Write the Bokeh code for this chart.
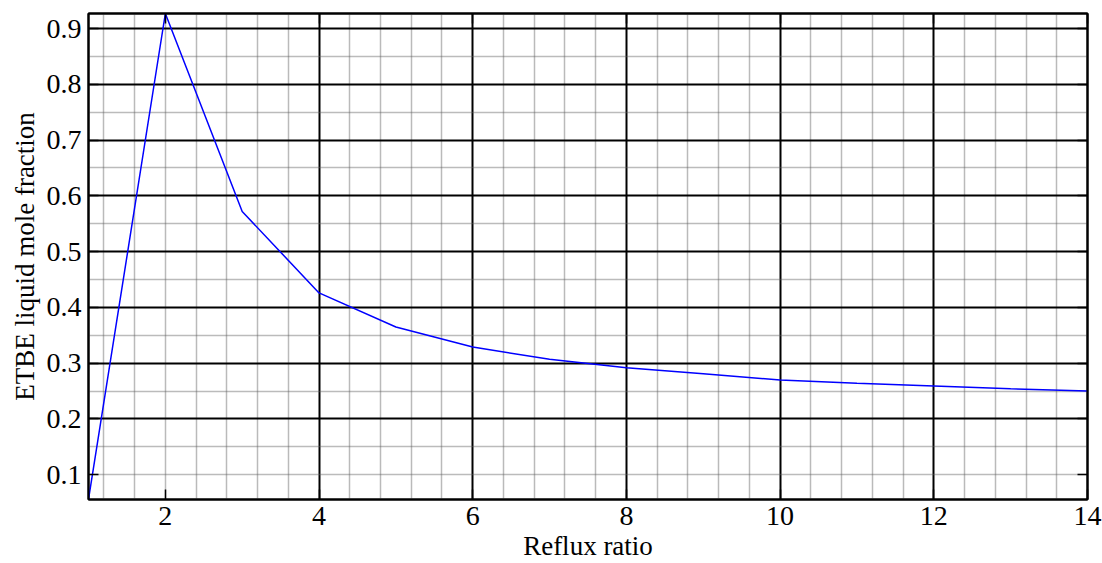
from bokeh.plotting import figure
from bokeh.models import FixedTicker, LinearAxis, Range1d, ColumnDataSource
from bokeh.embed import file_html
from bokeh.resources import INLINE

# ETBE liquid mole fraction versus reflux ratio
reflux_ratio = [1, 2, 3, 4, 5, 6, 7, 8, 9, 10, 11, 12, 13, 14]
etbe_fraction = [0.0556, 0.927, 0.572, 0.426, 0.365, 0.329, 0.307, 0.292,
                 0.281, 0.270, 0.264, 0.259, 0.254, 0.250]

x_ticks = [2, 4, 6, 8, 10, 12, 14]
y_ticks = [0.1, 0.2, 0.3, 0.4, 0.5, 0.6, 0.7, 0.8, 0.9]
x_minor = [1.2, 1.6, 2.0, 2.4, 2.8, 3.2, 3.6, 4.4, 4.8, 5.2, 5.6, 6.4, 6.8, 7.2, 7.6,
           8.4, 8.8, 9.2, 9.6, 10.4, 10.8, 11.2, 11.6, 12.4, 12.8, 13.2, 13.6]
y_minor = [0.1, 0.15, 0.25, 0.35, 0.45, 0.55, 0.65, 0.75, 0.85]
x_bold = [4, 6, 8, 10, 12]
y_bold = [0.2, 0.3, 0.4, 0.5, 0.6, 0.7, 0.8, 0.9]

FONT = "Liberation Serif"
TICK_FS = "28px"
LABEL_FS = "27px"

p = figure(width=1102, height=563, output_backend="svg", toolbar_location=None,
           x_range=Range1d(min(reflux_ratio), max(reflux_ratio)),
           y_range=Range1d(min(etbe_fraction), max(etbe_fraction)),
           min_border_left=88, min_border_right=15, min_border_top=13, min_border_bottom=63)
p.background_fill_color = "white"
p.border_fill_color = "white"
p.outline_line_color = "black"
p.outline_line_width = 2

# grids: dotted gray minor lines, solid black major lines
p.xgrid.ticker = FixedTicker(ticks=x_bold, minor_ticks=x_minor)
p.ygrid.ticker = FixedTicker(ticks=y_bold, minor_ticks=y_minor)
for g in (p.xgrid[0], p.ygrid[0]):
    g.grid_line_color = "black"
    g.grid_line_width = 2
    g.minor_grid_line_color = "#5e5e5e"
    g.minor_grid_line_width = 1.5
    g.minor_grid_line_dash = "1 1"
    g.minor_grid_line_alpha = 0.85

def style_axis(ax, show_labels=True):
    ax.axis_line_color = "black"
    ax.axis_line_width = 2
    ax.major_tick_in = 10
    ax.major_tick_out = 0
    ax.major_tick_line_width = 1.5
    ax.minor_tick_line_color = None
    ax.major_label_text_font = FONT
    ax.major_label_text_font_size = TICK_FS if show_labels else "0px"
    ax.major_label_text_color = "black" if show_labels else None
    ax.axis_label_text_font = FONT
    ax.axis_label_text_font_size = LABEL_FS
    ax.axis_label_text_font_style = "normal"
    ax.axis_label_text_color = "black"

p.xaxis.ticker = FixedTicker(ticks=x_ticks)
p.yaxis.ticker = FixedTicker(ticks=y_ticks)
style_axis(p.xaxis[0])
style_axis(p.yaxis[0])
p.xaxis.axis_label = "Reflux ratio"
p.yaxis.axis_label = "ETBE liquid mole fraction"
p.xaxis.major_label_standoff = 7
p.xaxis.axis_label_standoff = 3
p.yaxis.major_label_standoff = 7
p.yaxis.axis_label_standoff = 4

top_axis = LinearAxis(ticker=FixedTicker(ticks=x_ticks))
right_axis = LinearAxis(ticker=FixedTicker(ticks=y_ticks))
style_axis(top_axis, False)
style_axis(right_axis, False)
top_axis.major_label_standoff = 0
right_axis.major_label_standoff = 0
p.add_layout(top_axis, "above")
p.add_layout(right_axis, "right")

src = ColumnDataSource(dict(x=reflux_ratio, y=etbe_fraction))
p.line("x", "y", source=src, line_color="#0000ff", line_width=1.5)

open("out.html", "w").write(file_html(p, INLINE))
